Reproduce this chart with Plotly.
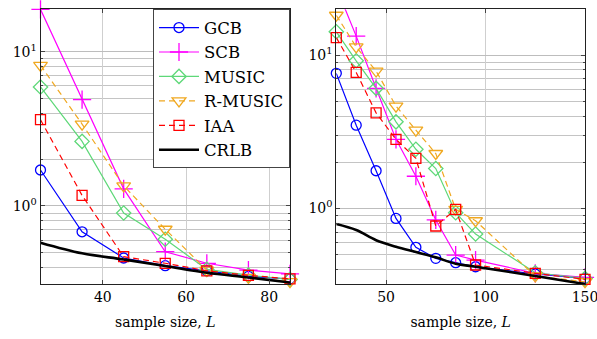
import math
import plotly.graph_objects as go

# ---------------- data ----------------
x_left = [25, 35, 45, 55, 65, 75, 85]
left_gcb = [1.71, 0.68, 0.46, 0.41, 0.38, 0.35, 0.336]
left_scb = [18.8, 4.88, 1.29, 0.505, 0.425, 0.384, 0.363]
left_music = [5.9, 2.62, 0.90, 0.608, 0.388, 0.356, 0.334]
left_rmusic = [8.15, 3.39, 1.35, 0.706, 0.384, 0.344, 0.323]
left_iaa = [3.62, 1.17, 0.469, 0.425, 0.38, 0.355, 0.337]
left_crlb = [0.578, 0.493, 0.45, 0.408, 0.369, 0.344, 0.319]

x_right = [25, 35, 45, 55, 65, 75, 85, 95, 125, 150]
right_gcb = [7.6, 3.49, 1.76, 0.86, 0.557, 0.472, 0.442, 0.416, 0.373, 0.349]
right_scb = [27.7, 13.3, 6.07, 2.82, 1.62, 0.84, 0.496, 0.46, 0.377, 0.355]
right_music = [14.2, 9.18, 6.07, 3.67, 2.43, 1.82, 0.936, 0.68, 0.38, 0.349]
right_rmusic = [18.2, 11.3, 7.87, 4.65, 3.24, 2.28, 0.985, 0.83, 0.362, 0.332]
right_iaa = [13.0, 7.71, 4.2, 2.82, 2.12, 0.767, 0.985, 0.427, 0.377, 0.344]
right_crlb = [0.79, 0.722, 0.62, 0.562, 0.519, 0.479, 0.435, 0.416, 0.362, 0.321]

names = ["GCB", "SCB", "MUSIC", "R-MUSIC", "IAA", "CRLB"]
y_tickvals = [1, 10]
y_ticktext = ["10<sup>0</sup>", "10<sup>1</sup>"]
y_minor = [0.3, 0.4, 0.5, 0.6, 0.7, 0.8, 0.9, 2, 3, 4, 5, 6, 7, 8, 9, 20]

# ---------------- styles ----------------
FONT = "DejaVu Serif"
styles = {
    "GCB": dict(color="#0000ff", symbol="circle-open", size=10, dash="solid", width=1.2),
    "SCB": dict(color="#ff00ff", symbol="cross-thin-open", size=13, dash="solid", width=1.2),
    "MUSIC": dict(color="#5ed878", symbol="diamond-open", size=11, dash="solid", width=1.2),
    "R-MUSIC": dict(color="#f0a820", symbol="triangle-down-open", size=12, dash="6px,4px", width=1.2),
    "IAA": dict(color="#ff0000", symbol="square-open", size=10, dash="6px,4px", width=1.2),
    "CRLB": dict(color="#000000", symbol=None, size=0, dash="solid", width=2.6),
}

fig = go.Figure()

left = dict(zip(names, [left_gcb, left_scb, left_music, left_rmusic, left_iaa, left_crlb]))
right = dict(zip(names, [right_gcb, right_scb, right_music, right_rmusic, right_iaa, right_crlb]))

for panel, xs, data, xa, ya in [("L", x_left, left, "x", "y"), ("R", x_right, right, "x2", "y2")]:
    for n in names:
        s = styles[n]
        kw = dict(
            x=xs, y=data[n], name=n, xaxis=xa, yaxis=ya,
            showlegend=(panel == "L"),
            line=dict(color=s["color"], width=s["width"], dash=s["dash"]),
            cliponaxis=False,
        )
        if s["symbol"]:
            kw["mode"] = "lines+markers"
            kw["marker"] = dict(symbol=s["symbol"], size=s["size"], color=s["color"],
                                line=dict(color=s["color"], width=1.3))
        else:
            kw["mode"] = "lines"
            kw["line"]["shape"] = "spline"
        fig.add_trace(go.Scatter(**kw))

W, H = 597, 339
ydom = [1 - 284 / H, 1 - 9.3 / H]
grid = "#cfcfcf"
axis_font = dict(family=FONT, size=14, color="#000")


def xaxis(dom, rng, dtick, anchor):
    return dict(
        domain=dom, range=rng, dtick=dtick, tick0=0, anchor=anchor,
        showline=True, linecolor="#222", linewidth=1, mirror="ticks",
        ticks="inside", ticklen=4, tickcolor="#444",
        showgrid=True, gridcolor=grid, gridwidth=1, zeroline=False,
        tickfont=axis_font, ticklabeloverflow="allow",
        title=dict(text="sample size, <i>L</i>", font=axis_font, standoff=13),
        automargin=False,
    )


def yaxis(dom, rng, anchor):
    return dict(
        domain=dom, type="log", range=rng, anchor=anchor,
        tickvals=y_tickvals, ticktext=y_ticktext,
        showline=True, linecolor="#222", linewidth=1, mirror="ticks",
        ticks="inside", ticklen=4, tickcolor="#444",
        showgrid=True, gridcolor="#bdbdbd", gridwidth=1, zeroline=False,
        minor=dict(tickvals=y_minor, showgrid=True, gridcolor="#c4c4c4",
                   ticks="inside", ticklen=2, tickcolor="#444"),
        tickfont=axis_font, automargin=False,
    )


fig.update_layout(
    width=W, height=H,
    margin=dict(l=0, r=0, t=0, b=0),
    paper_bgcolor="white", plot_bgcolor="white",
    font=dict(family=FONT, size=14, color="#000"),
    xaxis=xaxis([40.5 / W, 290 / W], [25, 85], 20, "y"),
    yaxis=yaxis(ydom, [math.log10(0.312), math.log10(18.8)], "x"),
    xaxis2=xaxis([336.3 / W, 585 / W], [25, 150], 50, "y2"),
    yaxis2=yaxis(ydom, [math.log10(0.321), math.log10(19.9)], "x2"),
    showlegend=True,
    legend=dict(
        x=290 / W, y=1 - 9.3 / H, xanchor="right", yanchor="top",
        bgcolor="white", bordercolor="#444", borderwidth=1,
        font=dict(family=FONT, size=16.5, color="#000"),
        tracegroupgap=0, itemwidth=40, entrywidth=138,
    ),
)

fig.write_html("out.html")
